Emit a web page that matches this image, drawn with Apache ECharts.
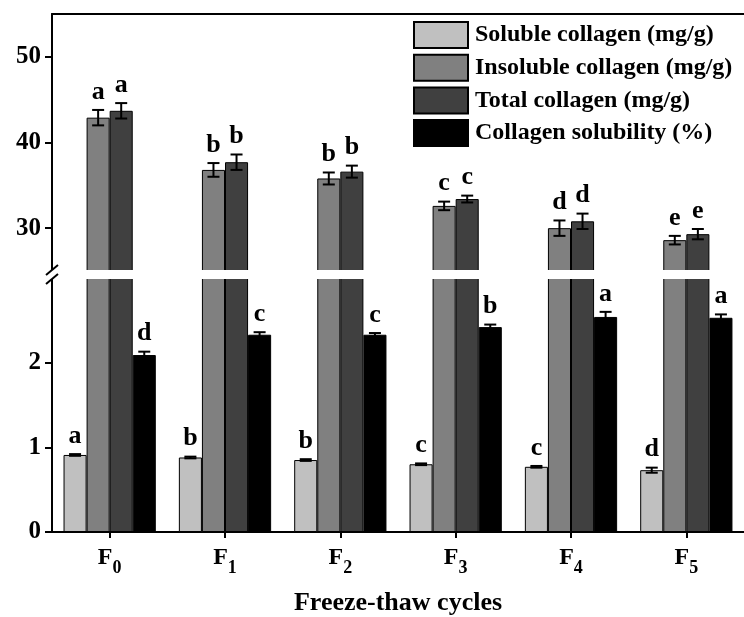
<!DOCTYPE html>
<html>
<head>
<meta charset="utf-8">
<script src="https://cdn.jsdelivr.net/npm/echarts@6/dist/echarts.min.js"></script>
<style>html,body{margin:0;padding:0;background:#fff;}#c{width:744px;height:617px;}</style>
</head>
<body>
<div id="c"></div>
<script>
const categories = ['F0', 'F1', 'F2', 'F3', 'F4', 'F5'];
const seriesNames = ['Soluble collagen (mg/g)', 'Insoluble collagen (mg/g)', 'Total collagen (mg/g)', 'Collagen solubility (%)'];
const soluble = [0.91, 0.88, 0.85, 0.80, 0.77, 0.73];
const solubleErr = [0.01, 0.01, 0.01, 0.01, 0.01, 0.03];
const solubleLetters = ['a', 'b', 'b', 'c', 'c', 'd'];
const insoluble = [42.9, 36.8, 35.8, 32.6, 30.0, 28.6];
const insolubleErr = [0.9, 0.8, 0.7, 0.5, 0.9, 0.5];
const insolubleLetters = ['a', 'b', 'b', 'c', 'd', 'e'];
const total = [43.7, 37.7, 36.6, 33.4, 30.8, 29.3];
const totalErr = [0.9, 0.9, 0.7, 0.4, 0.9, 0.6];
const totalLetters = ['a', 'b', 'b', 'c', 'd', 'e'];
const solubility = [2.09, 2.33, 2.33, 2.42, 2.54, 2.53];
const solubilityErr = [0.04, 0.03, 0.02, 0.03, 0.06, 0.04];
const solubilityLetters = ['d', 'c', 'c', 'b', 'a', 'a'];
const upperTicks = [30, 40, 50];
const lowerTicks = [0, 1, 2];

const FONT = '"Liberation Serif", "Times New Roman", serif';
const colors = ['#c0c0c0', '#808080', '#404040', '#000000'];
const values = [soluble, insoluble, total, solubility];
const errs = [solubleErr, insolubleErr, totalErr, solubilityErr];
const letters = [solubleLetters, insolubleLetters, totalLetters, solubilityLetters];

const chart = echarts.init(document.getElementById('c'), null, {renderer: 'canvas'});

function barSeries(k, gi) {
  return {
    name: seriesNames[k], type: 'bar', xAxisIndex: gi, yAxisIndex: gi,
    data: values[k], barGap: '0%', barCategoryGap: '20%',
    itemStyle: {color: colors[k], borderColor: '#000', borderWidth: 1},
    clip: true, z: 2
  };
}
function errSeries(k, gi) {
  return {
    type: 'custom', xAxisIndex: gi, yAxisIndex: gi, z: 4, silent: true,
    data: values[k].map((v, i) => [i, v, errs[k][i]]),
    renderItem: function (params, api) {
      const i = api.value(0), v = api.value(1), e = api.value(2);
      const c = api.coord([i, v]);
      const w = api.size([1, 0])[0];
      const slot = w * 0.8 / 4;
      const x = c[0] + (k - 1.5) * slot;
      const yt = api.coord([i, v + e])[1];
      const yb = api.coord([i, v - e])[1];
      const ls = {stroke: '#000', lineWidth: 2};
      return {type: 'group', children: [
        {type: 'line', shape: {x1: x, y1: yt, x2: x, y2: yb}, style: ls},
        {type: 'line', shape: {x1: x - 6, y1: yt, x2: x + 6, y2: yt}, style: ls},
        {type: 'line', shape: {x1: x - 6, y1: yb, x2: x + 6, y2: yb}, style: ls},
        {type: 'text', style: {text: letters[k][params.dataIndex], x: x, y: yt - 5,
          align: 'center', verticalAlign: 'bottom', fontSize: 26, fontWeight: 'bold',
          fontFamily: FONT, fill: '#000'}}
      ]};
    }
  };
}

const axisLineStyle = {color: '#000', width: 2};
const labelStyle = {fontFamily: FONT, fontWeight: 'bold', fontSize: 25, color: '#000'};

const option = {
  animation: false,
  backgroundColor: '#fff',
  grid: [
    {left: 52, right: -6, top: 14, height: 257},
    {left: 52, right: -6, top: 278, height: 256}
  ],
  legend: {
    orient: 'vertical', left: 413, top: 21, padding: 0, itemWidth: 54, itemHeight: 26, itemGap: 4.7,
    icon: 'rect', selectedMode: false, data: seriesNames,
    textStyle: {fontFamily: FONT, fontWeight: 'bold', fontSize: 24, color: '#000', padding: [0, 0, 0, 2]}
  },
  xAxis: [
    {type: 'category', gridIndex: 0, data: categories, position: 'top',
     axisLine: {show: true, lineStyle: axisLineStyle}, axisTick: {show: false}, axisLabel: {show: false}},
    {type: 'category', gridIndex: 1, data: categories, position: 'bottom',
     axisLine: {show: true, lineStyle: axisLineStyle},
     axisTick: {show: true, alignWithLabel: true, length: 6, lineStyle: {color: '#000', width: 2}},
     axisLabel: {margin: 7, formatter: v => '{a|F}{s|' + v.slice(1) + '}',
       rich: {
         a: {fontFamily: FONT, fontWeight: 'bold', fontSize: 24, color: '#000'},
         s: {fontFamily: FONT, fontWeight: 'bold', fontSize: 18, color: '#000', padding: [20, 0, 0, 0]}
       }},
     name: 'Freeze-thaw cycles', nameLocation: 'middle', nameGap: 58,
     nameTextStyle: {fontFamily: FONT, fontWeight: 'bold', fontSize: 26, color: '#000'}}
  ],
  yAxis: [
    {type: 'value', gridIndex: 0, min: 25, max: 55, splitLine: {show: false},
     axisLine: {show: true, lineStyle: axisLineStyle},
     axisTick: {show: true, length: 7, lineStyle: {color: '#000', width: 2}, customValues: upperTicks},
     axisLabel: Object.assign({margin: 11, customValues: upperTicks}, labelStyle)},
    {type: 'value', gridIndex: 1, min: 0, max: 3, splitLine: {show: false},
     axisLine: {show: true, lineStyle: axisLineStyle},
     axisTick: {show: true, length: 7, lineStyle: {color: '#000', width: 2}, customValues: lowerTicks},
     axisLabel: Object.assign({margin: 11, customValues: lowerTicks}, labelStyle)}
  ],
  series: [
    barSeries(0, 1), barSeries(1, 1), barSeries(2, 1), barSeries(3, 1),
    barSeries(0, 0), barSeries(1, 0), barSeries(2, 0), barSeries(3, 0),
    errSeries(0, 1), errSeries(3, 1), errSeries(1, 0), errSeries(2, 0)
  ],
  graphic: [
    {type: 'rect', z: 100, shape: {x: 40, y: 270, width: 704, height: 9}, style: {fill: '#fff'}},
    {type: 'line', z: 101, shape: {x1: 46, y1: 275, x2: 58, y2: 265}, style: {stroke: '#000', lineWidth: 2}},
    {type: 'line', z: 101, shape: {x1: 46, y1: 284, x2: 58, y2: 274}, style: {stroke: '#000', lineWidth: 2}}
  ]
};
chart.setOption(option);
</script>
</body>
</html>
